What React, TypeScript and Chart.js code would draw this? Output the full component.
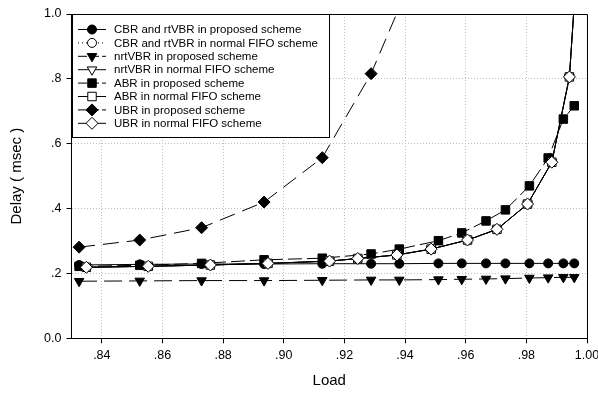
import React, { useEffect, useRef } from 'react';
import { Chart, registerables } from 'chart.js';
import { drawPoint } from 'chart.js/helpers';

Chart.register(...registerables);

// ---- data ----
const loadProposed = [0.8325, 0.8525, 0.8729, 0.8935, 0.9127, 0.9288, 0.9381, 0.951, 0.9587, 0.9667, 0.9731, 0.981, 0.9872, 0.9922, 0.9958];
const loadFifo = [0.8349, 0.8553, 0.8758, 0.8948, 0.9151, 0.9244, 0.9373, 0.9486, 0.9606, 0.9703, 0.9804, 0.9884, 0.9942, 0.997];

const cbrProposed = [0.226, 0.228, 0.229, 0.229, 0.23, 0.23, 0.23, 0.231, 0.231, 0.231, 0.231, 0.231, 0.231, 0.231, 0.231];
const nrtProposed = [0.176, 0.177, 0.178, 0.178, 0.179, 0.18, 0.18, 0.181, 0.182, 0.183, 0.184, 0.186, 0.187, 0.188, 0.188];
const abrProposed = [0.222, 0.225, 0.231, 0.242, 0.247, 0.26, 0.275, 0.301, 0.325, 0.362, 0.396, 0.47, 0.556, 0.676, 0.717];
const ubrProposed = [0.281, 0.303, 0.341, 0.42, 0.557, 0.816, 1.02];
const fifoDelay = [0.219, 0.222, 0.226, 0.231, 0.238, 0.246, 0.257, 0.275, 0.303, 0.336, 0.414, 0.543, 0.806, 1.2];

const seriesLabels = [
  'CBR and rtVBR in proposed scheme',
  'CBR and rtVBR in normal FIFO scheme',
  'nrtVBR in proposed scheme',
  'nrtVBR in normal FIFO scheme',
  'ABR in proposed scheme',
  'ABR in normal FIFO scheme',
  'UBR in proposed scheme',
  'UBR in normal FIFO scheme',
];

const xTicks = [0.84, 0.86, 0.88, 0.9, 0.92, 0.94, 0.96, 0.98, 1.0];
const xTickLabels = ['.84', '.86', '.88', '.90', '.92', '.94', '.96', '.98', '1.00'];
const yTicks = [0, 0.2, 0.4, 0.6, 0.8, 1.0];
const yTickLabels = ['0.0', '.2', '.4', '.6', '.8', '1.0'];

const xTitle = 'Load';
const yTitle = 'Delay ( msec )';

const FONT = "'Liberation Sans', Arial, sans-serif";

const pts = (xs: number[], ys: number[]) => ys.map((y, i) => ({ x: xs[i], y }));

const seriesData = [
  pts(loadProposed, cbrProposed),
  pts(loadFifo, fifoDelay),
  pts(loadProposed, nrtProposed),
  pts(loadFifo, fifoDelay),
  pts(loadProposed, abrProposed),
  pts(loadFifo, fifoDelay),
  pts(loadProposed, ubrProposed),
  pts(loadFifo, fifoDelay),
];

const styles = [
  { pointStyle: 'circle', rotation: 0, radius: 4.5, fill: '#000', dash: [] as number[] },
  { pointStyle: 'circle', rotation: 0, radius: 4.5, fill: '#fff', dash: [1, 3] },
  { pointStyle: 'triangle', rotation: 180, radius: 5.5, fill: '#000', dash: [18, 7] },
  { pointStyle: 'triangle', rotation: 180, radius: 5.5, fill: '#fff', dash: [] as number[] },
  { pointStyle: 'rect', rotation: 0, radius: 6, fill: '#000', dash: [14, 5] },
  { pointStyle: 'rect', rotation: 0, radius: 6, fill: '#fff', dash: [] as number[] },
  { pointStyle: 'rectRot', rotation: 0, radius: 6, fill: '#000', dash: [16, 8] },
  { pointStyle: 'rectRot', rotation: 0, radius: 6, fill: '#fff', dash: [] as number[] },
];

const framePlugin = {
  id: 'frame',
  afterDatasetsDraw(chart: any) {
    const { ctx, chartArea: a } = chart;
    ctx.save();
    ctx.strokeStyle = '#000';
    ctx.lineWidth = 1;
    ctx.setLineDash([]);
    ctx.beginPath();
    ctx.moveTo(Math.round(a.left) + 0.5, Math.round(a.top) + 0.5);
    ctx.lineTo(Math.round(a.right) + 0.5, Math.round(a.top) + 0.5);
    ctx.lineTo(Math.round(a.right) + 0.5, Math.round(a.bottom) + 0.5);
    ctx.stroke();
    ctx.restore();
  },
};

const legendPlugin = {
  id: 'boxLegend',
  afterDraw(chart: any) {
    const { ctx, chartArea: a } = chart;
    const left = Math.round(a.left) + 0.5;
    const top = Math.round(a.top) + 0.5;
    const right = 329.5;
    const bottom = 137.5;
    ctx.save();
    ctx.fillStyle = '#fff';
    ctx.fillRect(left, top, right - left, bottom - top);
    ctx.strokeStyle = '#000';
    ctx.lineWidth = 1;
    ctx.setLineDash([]);
    ctx.strokeRect(left, top, right - left, bottom - top);
    ctx.font = `11.5px ${FONT}`;
    ctx.textBaseline = 'middle';
    ctx.textAlign = 'left';
    chart.data.datasets.forEach((ds: any, i: number) => {
      const st = styles[i];
      const y = 29.5 + i * 13.4;
      ctx.strokeStyle = '#000';
      ctx.lineWidth = 1;
      ctx.setLineDash(st.dash.length ? (st.dash[0] === 1 ? [1, 3] : [9, 3]) : []);
      ctx.beginPath();
      ctx.moveTo(78, y);
      ctx.lineTo(106, y);
      ctx.stroke();
      ctx.setLineDash([]);
      ctx.fillStyle = st.fill;
      drawPoint(ctx, { pointStyle: st.pointStyle, radius: st.radius, rotation: st.rotation, borderWidth: 1 } as any, 92, y);
      ctx.fillStyle = '#000';
      ctx.fillText(ds.label, 114, y + 0.5);
    });
    ctx.restore();
  },
};

export default function App() {
  const ref = useRef<HTMLCanvasElement | null>(null);
  useEffect(() => {
    if (!ref.current) return;
    Chart.defaults.font.family = FONT;
    Chart.defaults.color = '#000';
    const chart = new Chart(ref.current, {
      type: 'line',
      data: {
        datasets: seriesData.map((d, i) => ({
          label: seriesLabels[i],
          data: d,
          borderColor: '#000',
          borderWidth: 1,
          borderDash: styles[i].dash,
          pointStyle: styles[i].pointStyle as any,
          pointRotation: styles[i].rotation,
          pointRadius: styles[i].radius,
          pointBackgroundColor: styles[i].fill,
          pointBorderColor: '#000',
          pointBorderWidth: 1,
          tension: 0,
          fill: false,
          order: 8 - i,
        })),
      },
      options: {
        animation: false,
        responsive: true,
        maintainAspectRatio: false,
        layout: { padding: { top: 14, right: 0, left: 0, bottom: 0 } },
        plugins: { legend: { display: false }, tooltip: { enabled: false } },
        scales: {
          x: {
            type: 'linear',
            min: 0.83,
            max: 1.0,
            afterBuildTicks: (s: any) => { s.ticks = xTicks.map((v) => ({ value: v })); },
            afterFit: (s: any) => { s.height = 55.7; s.paddingRight = 11; },
            ticks: {
              autoSkip: false,
              maxRotation: 0,
              padding: 5,
              font: { size: 12.5 },
              color: '#000',
              callback: (v: any) => xTickLabels[xTicks.findIndex((t) => Math.abs(t - v) < 1e-6)],
            },
            grid: { color: '#bdbdbd', tickColor: '#000', tickLength: 5, tickBorderDash: [], drawTicks: true },
            border: { display: true, color: '#000', width: 1, dash: [1, 2] },
            title: { display: true, text: xTitle, font: { size: 15 }, color: '#000', padding: { top: 0, bottom: 4 } },
          },
          y: {
            type: 'linear',
            min: 0,
            max: 1.0,
            afterBuildTicks: (s: any) => { s.ticks = yTicks.map((v) => ({ value: v })); },
            afterFit: (s: any) => { s.width = 71.5; },
            ticks: {
              autoSkip: false,
              padding: 5,
              font: { size: 12.5 },
              color: '#000',
              callback: (v: any) => yTickLabels[yTicks.findIndex((t) => Math.abs(t - v) < 1e-6)],
            },
            grid: { color: '#bdbdbd', tickColor: '#000', tickLength: 5, tickBorderDash: [], drawTicks: true },
            border: { display: true, color: '#000', width: 1, dash: [1, 2] },
            title: { display: true, text: yTitle, font: { size: 15 }, color: '#000', padding: { top: 8, bottom: 0 } },
          },
        },
      } as any,
      plugins: [framePlugin, legendPlugin],
    });
    return () => chart.destroy();
  }, []);
  return (
    <div style={{ position: 'fixed', left: 0, top: 0, width: 598, height: 394, background: '#fff' }}>
      <canvas ref={ref} />
    </div>
  );
}
